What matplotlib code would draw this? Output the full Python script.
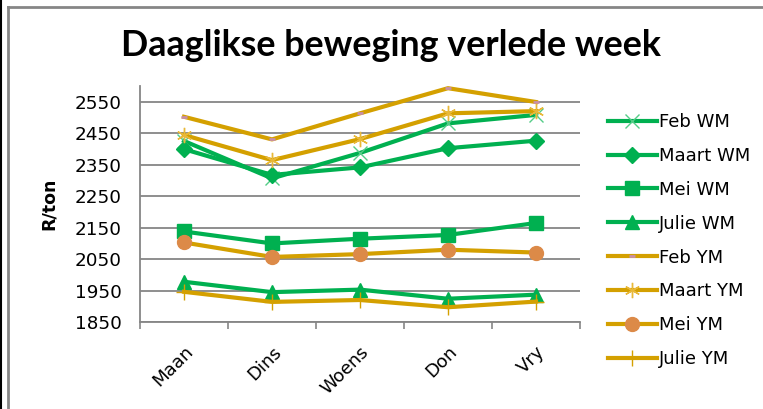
import numpy as np
import matplotlib
matplotlib.use('Agg')
from matplotlib import pyplot as plt
from matplotlib.lines import Line2D

days = ['Maan', 'Dins', 'Woens', 'Don', 'Vry']

feb_wm = [2426, 2307, 2388, 2482, 2509]
maart_wm = [2400, 2318, 2342, 2403, 2427]
mei_wm = [2138, 2100, 2115, 2127, 2165]
julie_wm = [1978, 1945, 1953, 1924, 1937]
feb_ym = [2503, 2431, 2514, 2594, 2550]
maart_ym = [2445, 2365, 2432, 2514, 2521]
mei_ym = [2103, 2057, 2066, 2080, 2071]
julie_ym = [1946, 1914, 1920, 1897, 1915]

y_ticks = [1850, 1950, 2050, 2150, 2250, 2350, 2450, 2550]

green = '#00B050'
gold = '#D4A000'

W, H = 763, 409
fig = plt.figure(figsize=(W / 100, H / 100), dpi=100)
ax = fig.add_axes([140 / W, 1 - 322 / H, 440 / W, (322 - 86.3) / H])

x = np.arange(len(days))
lw = 3

ax.plot(x, feb_wm, color=green, lw=lw, marker='x', ms=10, mew=1,
        mec='#55CC88', label='Feb WM')
ax.plot(x, maart_wm, color=green, lw=lw, marker='D', ms=8, mec=green,
        mfc=green, label='Maart WM')
ax.plot(x, mei_wm, color=green, lw=lw, marker='s', ms=10, mec=green,
        mfc=green, label='Mei WM')
ax.plot(x, julie_wm, color=green, lw=lw, marker='^', ms=10, mec=green,
        mfc=green, label='Julie WM')
ax.plot(x, feb_ym, color=gold, lw=lw, marker='_', ms=5, mew=2,
        mec='#C890A8', label='Feb YM')
ax.plot(x, maart_ym, color=gold, lw=lw, marker=(6, 2, 0), ms=11, mew=1,
        mec='#E8B838', label='Maart YM')
ax.plot(x, mei_ym, color=gold, lw=lw, marker='o', ms=10, mec='#DC8A48',
        mfc='#DC8A48', label='Mei YM')
ax.plot(x, julie_ym, color=gold, lw=lw, marker='+', ms=12, mew=1,
        mec=gold, label='Julie YM')

ax.set_xlim(-0.5, len(days) - 0.5)
ax.set_ylim(1850, 2600)
ax.set_yticks(y_ticks)
ax.set_xticks(x)
ax.set_xticks(np.arange(-0.5, len(days)), minor=True)
ax.set_xticklabels(days, rotation=45, ha='right', va='top',
                   rotation_mode='anchor', fontsize=13)
ax.tick_params(axis='x', which='major', length=0, pad=15)
ax.tick_params(axis='x', which='minor', length=5, color='#868686', width=1.2)
ax.tick_params(axis='y', length=0, pad=13, labelsize=13.2)

ax.grid(axis='y', color='#868686', lw=1.3)
ax.set_axisbelow(True)
for side in ['top', 'right']:
    ax.spines[side].set_visible(False)
for side in ['left', 'bottom']:
    ax.spines[side].set_color('#868686')
    ax.spines[side].set_linewidth(1.3)

fig.text(49 / W, 1 - 204 / H, 'R/ton', rotation=90, ha='center',
         va='center', fontsize=12.5, fontweight='bold')
fig.text(391 / W, 1 - 45 / H, 'Daaglikse beweging verlede week',
         ha='center', va='center', fontsize=25.8, fontweight='bold',
         family='Lato')

ax.legend(loc='upper left', bbox_to_anchor=(608 / W, 1 - 113 / H),
          bbox_transform=fig.transFigure, frameon=False, fontsize=13,
          handlelength=2.7, handletextpad=0.1, labelspacing=0.88,
          borderaxespad=0, borderpad=0)

# frame round the chart
fig.add_artist(Line2D([1 / W, 1 / W], [0, 1], color='black', lw=1.5))
fig.add_artist(Line2D([8 / W, 8 / W], [0, 1 - 7 / H], color='#868686', lw=2))
fig.add_artist(Line2D([8 / W, 1], [1 - 7 / H, 1 - 7 / H], color='#868686', lw=2))

fig.savefig('out.png', dpi=100)
